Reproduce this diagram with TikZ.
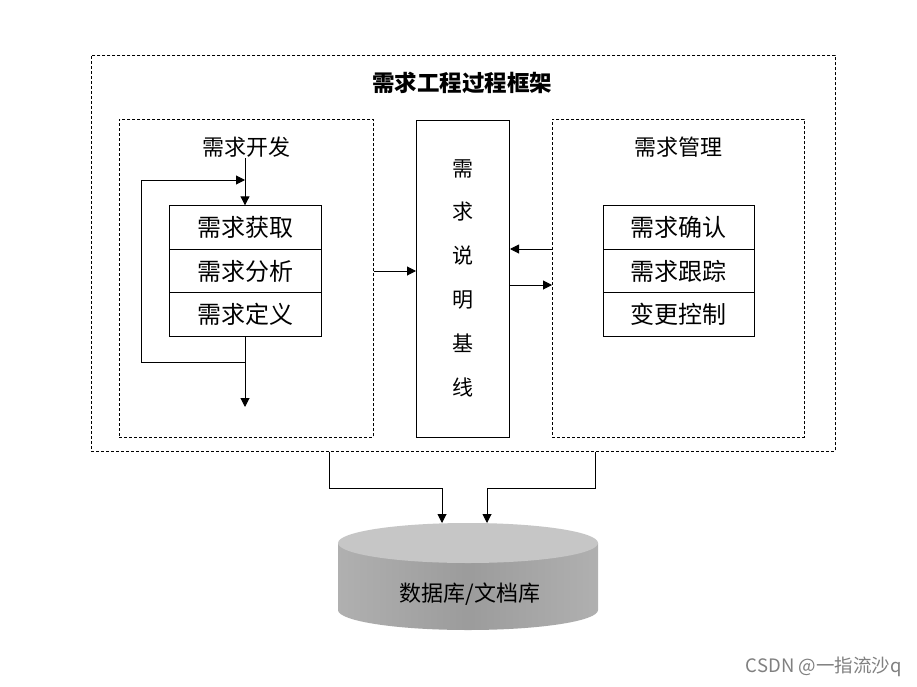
\documentclass[tikz,border=0pt]{standalone}
\usepackage{fontspec}
\setmainfont{Noto Sans CJK SC}
\usetikzlibrary{arrows.meta}
\begin{document}
\begin{tikzpicture}[x=1pt,y=-1pt,
 dbox/.style={draw, dash pattern=on 3pt off 2pt, line width=0.8pt, inner sep=0pt, anchor=north west},
 solidbox/.style={draw, line width=1pt, inner sep=0pt, anchor=north west},
 stage/.style={draw, line width=1pt, minimum width=152pt, minimum height=43.4pt, inner sep=0pt, font=\fontsize{24}{24}\selectfont},
 lbl/.style={font=\fontsize{22}{22}\selectfont, inner sep=1pt},
 arr/.style={line width=1pt, -{Triangle[length=9pt,width=9pt]}},
 ln/.style={line width=1pt}]
\useasboundingbox (0,0) rectangle (917,687);
\fill[white] (0,0) rectangle (917,687);

% frames
\node[dbox, minimum width=744pt, minimum height=396pt] (frame) at (91,55) {};
\node[dbox, minimum width=254pt, minimum height=318pt] (dev) at (119,119) {};
\node[solidbox, minimum width=93pt, minimum height=317pt] (spec) at (416,120) {};
\node[dbox, minimum width=252pt, minimum height=318pt] (mg) at (552,119) {};

% labels
\node[font=\bfseries\fontsize{22.5}{22.5}\selectfont] (title) at (462,83) {需求工程过程框架};
\node[lbl] (devlabel) at (246,147) {需求开发};
\node[lbl] (mglabel) at (678,147) {需求管理};
\node[align=center, font=\fontsize{21}{43.8}\selectfont] (spectext) at (462.5,278) {需\\求\\说\\明\\基\\线};

% stacks
\node[stage] (s1) at (245,227.5) {需求获取};
\node[stage] (s2) at (245,271) {需求分析};
\node[stage] (s3) at (245,314.5) {需求定义};
\node[stage, minimum width=151pt] (r1) at (678.5,227.5) {需求确认};
\node[stage, minimum width=151pt] (r2) at (678.5,271) {需求跟踪};
\node[stage, minimum width=151pt] (r3) at (678.5,314.5) {变更控制};

% development connectors
\coordinate (lpb) at (141,362);
\coordinate (lpt) at (141,180);
\coordinate (devout) at (245,407);
\draw[arr] (devlabel.south -| s1.north) -- (s1.north);
\draw[arr] (s3.south |- lpb) -- (lpb) -- (lpt) -- (lpt -| s1.north);
\draw[arr] (s3.south) -- (devout);

% between boxes
\coordinate (ya) at (0,271);
\coordinate (yb) at (0,249);
\coordinate (yc) at (0,285);
\draw[arr] (dev.east |- ya) -- (spec.west |- ya);
\draw[arr] (mg.west |- yb) -- (spec.east |- yb);
\draw[arr] (spec.east |- yc) -- (mg.west |- yc);

% database
\shade[left color=gray!62, right color=gray!62, middle color=gray!78]
 (338,543) -- (338,610) .. controls (338,621.05) and (396.2,630) .. (468,630)
 .. controls (539.8,630) and (598,621.05) .. (598,610) -- (598,543) -- cycle;
\fill[gray!45] (468,543) ellipse [x radius=130pt, y radius=20pt];
\node[font=\fontsize{22}{22}\selectfont] (db) at (470,594) {数据库/文档库};

\coordinate (c1) at (329,488);
\coordinate (c2) at (595,488);
\coordinate (t1) at (442,523);
\coordinate (t2) at (487,523);
\draw[arr] (frame.south -| c1) -- (c1) -- (c1 -| t1) -- (t1);
\draw[arr] (frame.south -| c2) -- (c2) -- (c2 -| t2) -- (t2);

% watermark
\node[font=\fontsize{18.5}{18.5}\selectfont, text=black!50, anchor=east] (wm) at (905,667) {CSDN @一指流沙q};
\end{tikzpicture}
\end{document}
